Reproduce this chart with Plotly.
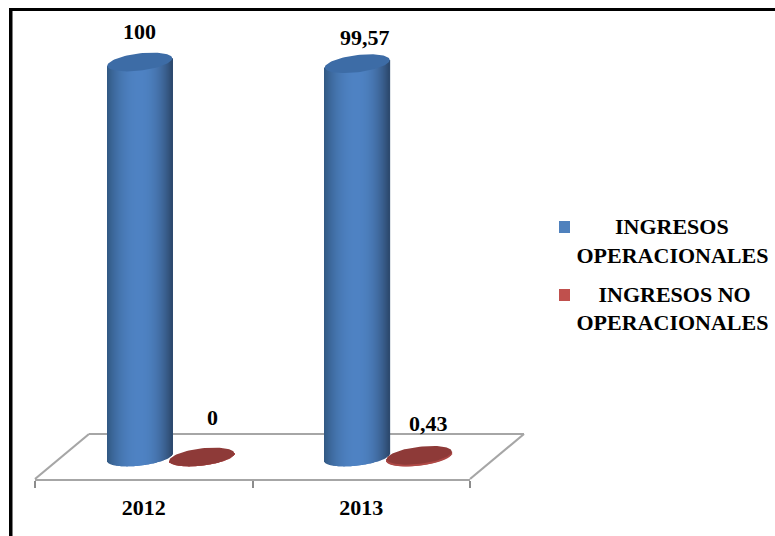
import numpy as np
import plotly.graph_objects as go

categories = ["2012", "2013"]
ingresos_operacionales = [100, 99.57]
ingresos_no_operacionales = [0, 0.43]
value_labels_op = ["100", "99,57"]
value_labels_no = ["0", "0,43"]
legend_op = "\u00a0" * 7 + "INGRESOS<br>OPERACIONALES"
legend_no = "\u00a0" * 4 + "INGRESOS NO<br>OPERACIONALES"

FONT = "Liberation Serif"
W, H = 775, 536
PX_X = 217.5        # pixels per category
PX_Y = 3.95         # pixels per value unit
AXIS_BOTTOM = 479
ZERO_PX = 457
Y_MIN = (ZERO_PX - AXIS_BOTTOM) / PX_Y
Y_MAX = ZERO_PX / PX_Y
A = 32.5            # ellipse half width, px
B = 8.6             # ellipse half height, px
TILT = 0.115        # rise per px
DEPTH_X = 54 / PX_X
DEPTH_Y = (ZERO_PX - 434) / PX_Y
BLUE = "#4f81bd"
RED = "#c0504d"


def rim(dx, sign):
    return (TILT * dx + sign * B * np.sqrt(np.clip(1 - (dx / A) ** 2, 0, 1))) / PX_Y


def shade(t, edge_l, mid, edge_r):
    e = edge_l if t < 0 else edge_r
    k = 1 - abs(t) ** 2.2
    return "rgb(%d,%d,%d)" % tuple(round(e[i] + (mid[i] - e[i]) * k) for i in range(3))


def cylinder_bar(values, start_px, edge_l, mid, edge_r):
    xs, ys, bases, offs, cols = [], [], [], [], []
    for i, v in enumerate(values):
        for k in range(int(2 * A)):
            dx = k + 0.5 - A
            bottom = rim(dx, -1)
            xs.append(i)
            bases.append(bottom)
            ys.append(v + TILT * dx / PX_Y - bottom)
            offs.append((start_px + k) / PX_X)
            cols.append(shade(dx / A, edge_l, mid, edge_r))
    return go.Bar(x=xs, y=ys, base=bases, offset=offs, width=[1.4 / PX_X] * len(xs),
                  marker=dict(color=cols, line=dict(width=0)), showlegend=False,
                  hoverinfo="skip", cliponaxis=False)


def cylinder_top(values, start_px, color):
    t = np.linspace(0, 2 * np.pi, 90)
    xs, ys = [], []
    for i, v in enumerate(values):
        dx = A * np.cos(t)
        xs += list(i + (start_px + A + dx) / PX_X) + [None]
        ys += list(v + (TILT * dx + B * np.sin(t)) / PX_Y) + [None]
    return go.Scatter(x=xs, y=ys, mode="lines", fill="toself", fillcolor=color,
                      line=dict(width=0, color=color), showlegend=False,
                      hoverinfo="skip", cliponaxis=False)


fig = go.Figure()
BLUE_START, RED_START = -36.5, 25.5
fig.add_trace(cylinder_bar(ingresos_operacionales, BLUE_START,
                           (49, 88, 130), (78, 130, 195), (44, 72, 108)))
fig.add_trace(cylinder_bar(ingresos_no_operacionales, RED_START,
                           (170, 70, 68), (176, 74, 71), (170, 70, 68)))
fig.add_trace(cylinder_top(ingresos_operacionales, BLUE_START, "#3d6ca6"))
fig.add_trace(cylinder_top(ingresos_no_operacionales, RED_START, "#8e3a38"))

# legend entries; their swatches are drawn as shapes beside the first text line
for name, group in [(legend_op, "a"), (legend_no, "b")]:
    fig.add_trace(go.Scatter(x=[None], y=[None], mode="markers", name=name, legendgroup=group,
                             marker=dict(symbol="square", size=11, color="rgba(0,0,0,0)")))

PL, PB = 35, H - AXIS_BOTTOM
pw, ph = 435, AXIS_BOTTOM
x0, x1 = -0.5, len(categories) - 0.5


def px_(v):
    return (v - x0) / (x1 - x0)


def py_(v):
    return (v - Y_MIN) / (Y_MAX - Y_MIN)


def paper_x(p):
    return (p - PL) / pw


def paper_y(p):
    return (AXIS_BOTTOM - p) / ph


# floor (paper coordinates, so it may run beyond the axis end)
floor = dict(type="line", xref="paper", yref="paper", layer="below", line=dict(color="#a6a6a6", width=2.2))
shapes = [
    dict(floor, x0=px_(x0 + DEPTH_X), x1=px_(x1 + DEPTH_X), y0=py_(DEPTH_Y), y1=py_(DEPTH_Y)),
    dict(floor, x0=px_(x0), x1=px_(x0 + DEPTH_X), y0=py_(Y_MIN), y1=py_(DEPTH_Y)),
    dict(floor, x0=px_(x1), x1=px_(x1 + DEPTH_X), y0=py_(Y_MIN), y1=py_(DEPTH_Y)),
]
# picture frame
shapes += [
    dict(type="rect", xref="paper", yref="paper", x0=paper_x(9), x1=paper_x(W),
         y0=paper_y(11), y1=paper_y(8), fillcolor="black", line=dict(width=0)),
    dict(type="rect", xref="paper", yref="paper", x0=paper_x(9), x1=paper_x(12.5),
         y0=paper_y(H), y1=paper_y(8), fillcolor="black", line=dict(width=0)),
]
# legend swatches
for color, top in [(BLUE, 221), (RED, 289)]:
    shapes.append(dict(type="rect", xref="paper", yref="paper", x0=paper_x(559), x1=paper_x(570),
                       y0=paper_y(top + 12), y1=paper_y(top), fillcolor=color, line=dict(width=0)))

# value labels
annotations = []
for i, (lab, dx_px, py) in enumerate(zip(value_labels_op, [-4, 4], [31, 37])):
    annotations.append(dict(x=i + dx_px / PX_X, y=(ZERO_PX - py) / PX_Y, text="<b>%s</b>" % lab,
                            showarrow=False, xanchor="center", yanchor="middle"))
for i, (lab, dx_px, py) in enumerate(zip(value_labels_no, [69, 67], [417, 423])):
    annotations.append(dict(x=i + dx_px / PX_X, y=(ZERO_PX - py) / PX_Y, text="<b>%s</b>" % lab,
                            showarrow=False, xanchor="center", yanchor="middle"))

fig.update_layout(
    width=W, height=H, autosize=False,
    margin=dict(l=PL, r=W - PL - pw, t=0, b=PB, autoexpand=False),
    paper_bgcolor="white", plot_bgcolor="rgba(0,0,0,0)",
    barmode="overlay",
    font=dict(family=FONT, size=22, color="black"),
    shapes=shapes, annotations=annotations,
    legend=dict(x=paper_x(536.5), y=paper_y(205), xanchor="left", yanchor="top",
                font=dict(family=FONT, size=22, color="black", weight="bold"),
                tracegroupgap=7, bgcolor="rgba(0,0,0,0)", itemclick=False, itemdoubleclick=False),
    xaxis=dict(range=[x0, x1], tickmode="array", tickvals=list(range(len(categories))),
               ticktext=["<b>%s</b>" % c for c in categories], ticks="", ticklen=0,
               ticklabelstandoff=8, showgrid=False, zeroline=False, showline=True,
               linecolor="#a6a6a6", linewidth=2, fixedrange=True,
               minor=dict(tickmode="array", tickvals=[x0 + k for k in range(len(categories) + 1)],
                          ticks="outside", ticklen=7, tickwidth=1.5, tickcolor="#8c8c8c", showgrid=False)),
    yaxis=dict(range=[Y_MIN, Y_MAX], visible=False, fixedrange=True),
)

fig.write_html("out.html", config={"displayModeBar": False},
               post_script="document.body.style.margin='0';document.documentElement.style.overflow='hidden';")
